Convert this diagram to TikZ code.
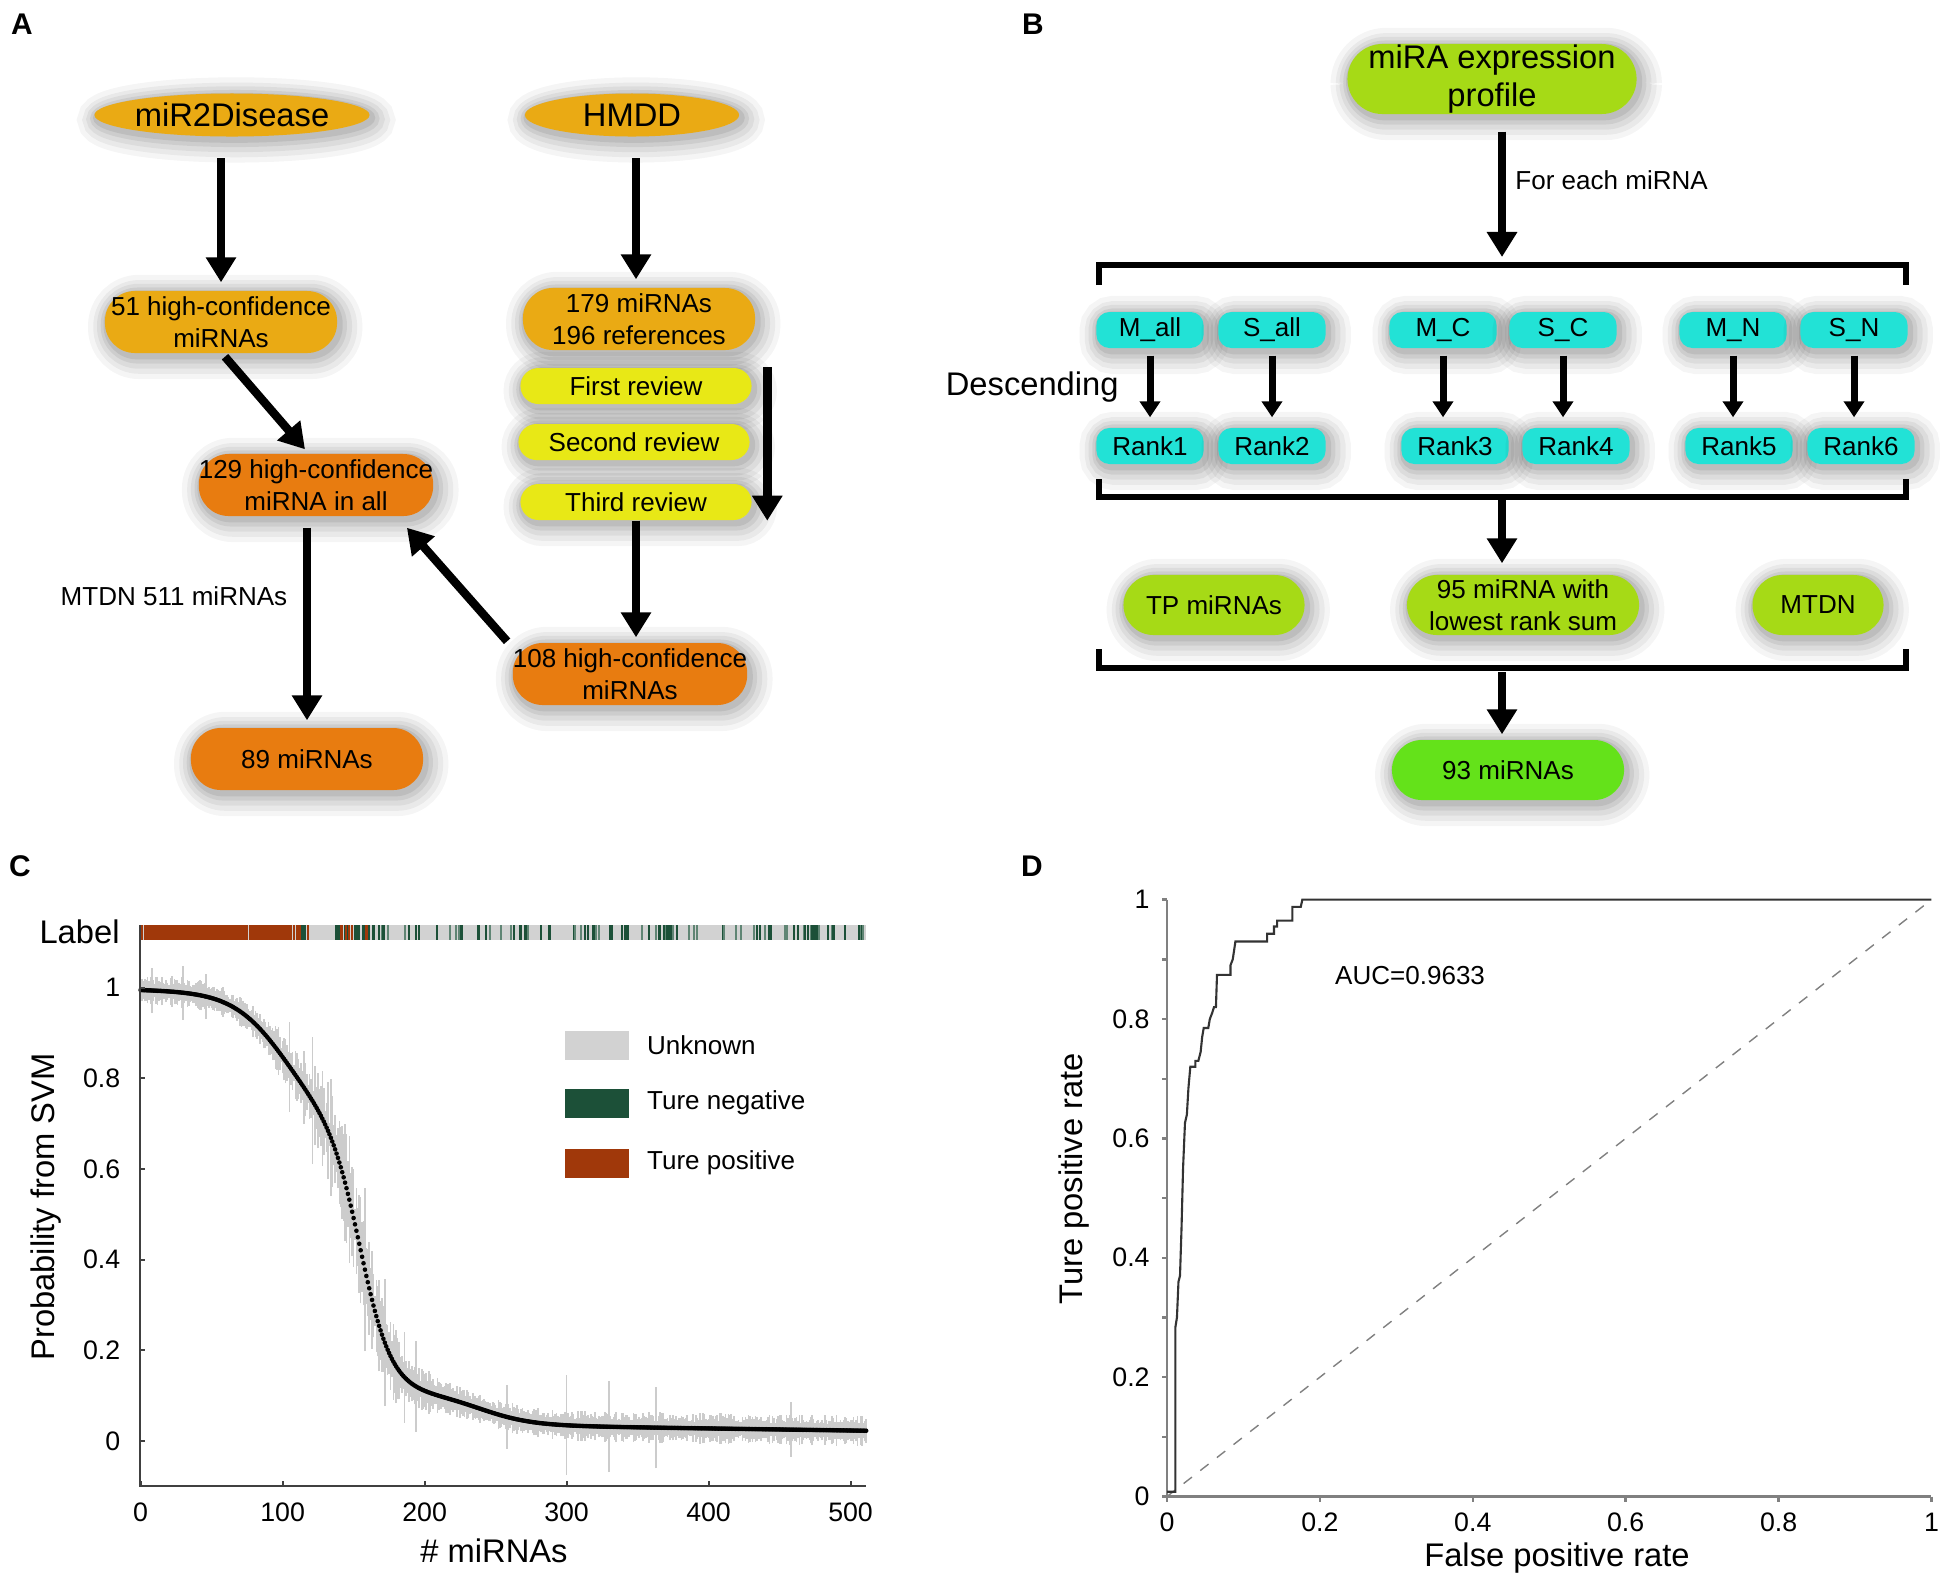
\documentclass[tikz,border=0pt]{standalone}
\usepackage{fontspec}
\setmainfont{Liberation Sans}
\usepackage{tikz}
\usetikzlibrary{arrows.meta,shapes.geometric,calc}
\usepackage{xcolor}
\definecolor{goldA}{HTML}{EAAA14}
\definecolor{orngA}{HTML}{E87C10}
\definecolor{yellA}{HTML}{E8E816}
\definecolor{limeB}{HTML}{A6DA16}
\definecolor{cyanB}{HTML}{22E2D6}
\definecolor{greenB}{HTML}{64E21A}
\definecolor{rustC}{HTML}{A0380A}
\definecolor{pineC}{HTML}{1C5038}
\newcommand{\fsm}{\fontsize{7.4}{9.2}\selectfont}
\newcommand{\fbig}{\fontsize{9.3}{11}\selectfont}
\newcommand{\ftick}{\fontsize{7.6}{9}\selectfont}
\newcommand{\fpanel}{\bfseries\fontsize{8.5}{10}\selectfont}
\tikzstyle{glow}=[preaction={draw=black,opacity=.04,line width=12pt,transform canvas={shift={(1.2pt,-1.4pt)}}},
	preaction={draw=black,opacity=.05,line width=9pt,transform canvas={shift={(1.2pt,-1.4pt)}}},
	preaction={draw=black,opacity=.055,line width=6.5pt,transform canvas={shift={(1pt,-1.2pt)}}},
	preaction={draw=black,opacity=.065,line width=4pt,transform canvas={shift={(0.8pt,-1pt)}}},
	preaction={draw=black,opacity=.08,line width=2pt,transform canvas={shift={(0.6pt,-0.8pt)}}}]
\tikzstyle{srcA}=[ellipse,fill=goldA,glow,minimum width=2.14cm,minimum height=0.43cm,inner sep=0pt,font=\fbig]
\tikzstyle{boxA}=[rectangle,rounded corners=0.3cm,glow,minimum width=2.32cm,minimum height=0.62cm,inner sep=0pt,align=center,font=\fsm]
\tikzstyle{goldbox}=[boxA,fill=goldA]
\tikzstyle{orbox}=[boxA,fill=orngA]
\tikzstyle{revbox}=[rectangle,rounded corners=0.18cm,fill=yellA,glow,minimum width=2.31cm,minimum height=0.36cm,inner sep=0pt,font=\fsm]
\tikzstyle{cyanbox}=[rectangle,rounded corners=0.13cm,fill=cyanB,glow,minimum width=1.07cm,minimum height=0.36cm,inner sep=0pt,font=\fsm]
\tikzstyle{limebox}=[rectangle,rounded corners=0.3cm,fill=limeB,glow,minimum height=0.6cm,inner sep=0pt,align=center,font=\fsm]
\tikzstyle{arr}=[-{Triangle[width=0.29cm,length=0.25cm]},line width=2.4pt]
\tikzstyle{arrsm}=[-{Triangle[width=0.2cm,length=0.16cm]},line width=2pt]
\tikzstyle{axisC}=[black!75,line width=0.6pt]
\tikzstyle{axisD}=[black!50,line width=0.7pt]
\tikzstyle{errbar}=[gray!40,line width=0.45pt]
\newcommand{\bracketB}[3]{% name, y of bar, y of tick ends
	\draw[line width=1.6pt] (1099,#3) -- (1099,#2) -- (1906,#2) -- (1906,#3);
	\coordinate (#1) at (1502,#2);
}

\begin{document}
\begin{tikzpicture}[x=0.01cm,y=-0.01cm]
\useasboundingbox (0,0) rectangle (1955,1578);
%
% A
\node[font=\fpanel] (labA) at (22,24) {A};
\node[srcA] (mir) at (232,115) {miR2Disease};
\node[srcA] (hmdd) at (632,115) {HMDD};
\node[goldbox] (r51) at (221,322) {51 high-confidence\\miRNAs};
\node[goldbox] (r179) at (639,319) {179 miRNAs\\196 references};
\node[revbox] (rev1) at (636,386) {First review};
\node[revbox] (rev2) at (634,442) {Second review};
\node[revbox] (rev3) at (636,502) {Third review};
\node[orbox] (r129) at (316,485) {129 high-confidence\\miRNA in all};
\node[orbox] (r89) at (307,759) {89 miRNAs};
\node[orbox] (r108) at (630,674) {108 high-confidence\\miRNAs};
\node[font=\fsm] (mtdnA) at (174,596) {MTDN 511 miRNAs};
%
\draw[arr,shorten <=0.21cm,shorten >=0.08cm] (r51 |- mir.south) -- (r51.north);
\draw[arr,shorten <=0.21cm,shorten >=0.08cm] (rev1 |- hmdd.south) -- (rev1 |- r179.north);
\coordinate (revtop) at ($(rev1.north east)+(15,0)$);
\draw[arr] (revtop) -- (revtop |- rev3.south);
\draw[arr] ($(r51.south)+(4,3)$) -- ($(r129.north)+(-11,-4)$);
\draw[arr,shorten <=0.11cm,shorten >=0.07cm] (r89 |- r129.south) -- (r89.north);
\draw[arr,shorten >=0.05cm] (rev3.south) -- (rev3.south |- r108.north);
\draw[arr] ($(r108.north west)+(-5,-1)$) -- ($(r129.south east)+(-27,11)$);
%
% B
\node[font=\fpanel] (labB) at (1033,24) {B};
\node[limebox,rounded corners=0.35cm,minimum width=2.89cm,minimum height=0.7cm,font=\fbig] (prof) at (1492,79) {miRA expression\\profile};
\bracketB{brT}{265}{285}
\bracketB{brM}{497}{479}
\bracketB{brB}{668}{649}
\draw[arr,shorten <=0.17cm,shorten >=0.08cm] (prof.south -| brT) -- (brT);
\node[font=\fsm,anchor=west] (each) at (1503,180) {For each miRNA};
\node[font=\fbig,anchor=east] (desc) at (1131,387) {Descending};
\foreach \nm/\tx/\xa/\xb [count=\k] in {mall/M\_all/1150/1150, sall/S\_all/1272/1272, mc/M\_C/1443/1455, sc/S\_C/1563/1576, mn/M\_N/1733/1739, sn/S\_N/1854/1861}{
	\node[cyanbox] (\nm) at (\xa,330) {\tx};
	\node[cyanbox] (rank\k) at (\xb,446) {Rank\k};
	\draw[arrsm,shorten <=0.07cm,shorten >=0.1cm] (\nm.south) -- (\nm.south |- rank\k.north);
}
\node[limebox,minimum width=1.81cm] (tp) at (1214,605) {TP miRNAs};
\node[limebox,minimum width=2.32cm] (r95) at (1523,605) {95 miRNA with\\lowest rank sum};
\node[limebox,minimum width=1.31cm] (mtdn) at (1818,605) {MTDN};
\node[limebox,fill=greenB,minimum width=2.32cm] (r93) at (1508,770) {93 miRNAs};
\draw[arr,shorten <=0.02cm,shorten >=0.11cm] (brM) -- (brM |- r95.north);
\draw[arr,shorten <=0.04cm,shorten >=0.05cm] (brB) -- (brB |- r93.north);
%
% C
\node[font=\fpanel] (labC) at (20,866) {C};
\node[font=\fbig,anchor=east] (lab) at (132,932) {Label};
\begin{scope}[shift={(140.6,1441)},x=0.01419cm,y=4.53cm,
	declare function={sg(\t)=1/(1+exp(min(9,max(-9,\t))));
		pr(\x)=0.046-0.00005*\x+0.6*sg((\x-155)/11)+0.28*sg((\x-100)/18)+0.07*sg((\x-240)/18);}]
	\fill[gray!35] (0.5,1.106) rectangle (511,1.139);
	\pgfmathsetseed{11}
	\foreach \i in {1,...,511}{
		\pgfmathsetmacro{\rv}{rnd}
		\pgfmathtruncatemacro{\kind}{ifthenelse(\i<106,ifthenelse(\rv<0.85,1,0),ifthenelse(\i<121,ifthenelse(\rv<0.45,1,ifthenelse(\rv<0.65,2,0)),ifthenelse(\i<138,0,ifthenelse(\i<166,ifthenelse(\rv<0.22,1,ifthenelse(\rv<0.5,2,0)),ifthenelse(\rv<0.11,2,ifthenelse(\rv<0.22,3,0))))))}
		\ifnum\kind=1 \fill[rustC] (\i-0.8,1.106) rectangle (\i+0.8,1.139);\fi
		\ifnum\kind=2 \fill[pineC] (\i-0.8,1.106) rectangle (\i+0.8,1.139);\fi
		\ifnum\kind=3 \fill[pineC!70] (\i-0.7,1.106) rectangle (\i+0.7,1.139);\fi
	}
	% error bars
	\foreach \i in {0,...,511}{
		\pgfmathsetmacro{\pv}{pr(\i)}
		\pgfmathsetmacro{\ev}{0.014+0.02*rnd+0.12*rnd*exp(-min(9,((\i-150)/40)^2))}
		\draw[errbar] (\i,\pv-\ev) -- (\i,\pv+\ev);
	}
	\foreach \i/\ev in {8/0.05,30/0.06,46/0.05,105/0.1,121/0.14,158/0.18,172/0.14,186/0.1,194/0.1,258/0.07,300/0.11,330/0.1,363/0.09,458/0.06}
		\draw[errbar] (\i,{pr(\i)-\ev}) -- (\i,{pr(\i)+\ev});
	\foreach \i in {0,...,511}
		\fill (\i,{pr(\i)}) circle (0.023cm);
	% axes
	\draw[axisC] (-0.7,1.139) -- (-0.7,-0.1) -- (511,-0.1);
	\foreach \v [count=\n] in {0,100,...,500}{
		\draw[axisC] (\v,-0.1) -- ++(0,0.05cm);
		\node[font=\ftick,yshift=-0.26cm] (xtC\n) at (\v,-0.1) {\v};
	}
	\foreach \p/\t [count=\n] in {0/0,0.2/0.2,0.4/0.4,0.6/0.6,0.8/0.8,1/1}{
		\draw[axisC] (-0.7,\p) -- ++(0.05cm,0);
		\node[font=\ftick,anchor=east,xshift=-0.07cm] (ytC\n) at (-0.7,\p) {\t};
	}
\end{scope}
\node[font=\fbig] (xlabC) at (494,1551) {\# miRNAs};
\node[font=\fbig,rotate=90] (ylabC) at (46,1207) {Probability from SVM};
\foreach \nm/\cl/\yy/\tx in {unk/gray!35/1045/Unknown, neg/pineC/1103/Ture negative, pos/rustC/1163/Ture positive}{
	\node[fill=\cl,minimum width=0.64cm,minimum height=0.29cm,inner sep=0pt] (key\nm) at (597,\yy) {};
	\node[font=\fsm,anchor=west] (txt\nm) at ($(key\nm.east)+(5,0)$) {\tx};
}
%
% D
\node[font=\fpanel] (labD) at (1032,866) {D};
\begin{scope}[shift={(1167,1496.5)},x=7.64cm,y=5.965cm]
	\draw[axisD] (0,1) -- (0,0) -- (1,0);
	\foreach \k in {0,...,10}
		\draw[axisD] (0,\k/10) -- ++(-0.05cm,0);
	\foreach \v/\t [count=\n] in {0/0,0.2/0.2,0.4/0.4,0.6/0.6,0.8/0.8,1/1}{
		\draw[axisD] (\v,0) -- ++(0,-0.05cm);
		\node[font=\ftick,yshift=-0.255cm] (xtD\n) at (\v,0) {\t};
		\node[font=\ftick,anchor=east,xshift=-0.05cm] (ytD\n) at (0,\v) {\t};
	}
	\draw[black!50,dashed,line width=0.4pt] (0,0) -- (1,1);
	\draw[black!80,line width=0.6pt] plot coordinates {(0,0.008) (0.011,0.008) (0.011,0.284) (0.013,0.30) (0.015,0.36) (0.017,0.37) (0.019,0.45) (0.021,0.55) (0.0235,0.626) (0.026,0.64) (0.028,0.684) (0.0305,0.72) (0.037,0.72) (0.037,0.73) (0.041,0.73) (0.044,0.745) (0.046,0.77) (0.048,0.785) (0.054,0.785) (0.056,0.80) (0.059,0.81) (0.0615,0.82) (0.064,0.82) (0.0654,0.874) (0.083,0.874) (0.083,0.89) (0.086,0.90) (0.0895,0.93) (0.131,0.93) (0.131,0.943) (0.14,0.943) (0.14,0.955) (0.144,0.955) (0.144,0.965) (0.164,0.965) (0.164,0.988) (0.175,0.988) (0.177,1) (1,1)};
	\node[font=\fsm] (auc) at (0.318,0.873) {AUC=0.9633};
\end{scope}
\node[font=\fbig] (xlabD) at (1557,1558) {False positive rate};
\node[font=\fbig,rotate=90] (ylabD) at (1074,1179) {Ture positive rate};
\end{tikzpicture}
\end{document}
